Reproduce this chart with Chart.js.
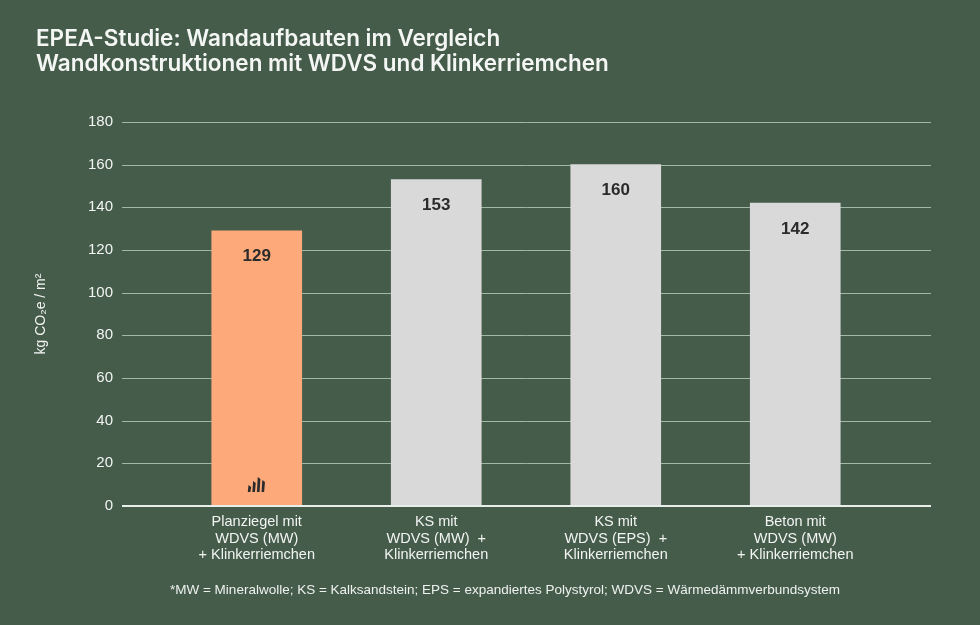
<!DOCTYPE html>
<html lang="de">
<head>
  <meta charset="UTF-8">
  <title>EPEA-Studie: Wandaufbauten im Vergleich</title>
  <script src="https://cdn.jsdelivr.net/npm/chart.js"></script>
  <style>
    html, body { margin: 0; padding: 0; background: #455c4b; }
    #wrap { width: 980px; height: 625px; }
  </style>
</head>
<body>
<div id="wrap"><canvas id="myChart"></canvas></div>

<script>
  // Daten
  var labels = [
    ['Planziegel mit', 'WDVS (MW)', '+ Klinkerriemchen'],
    ['KS mit', 'WDVS (MW)  +', 'Klinkerriemchen'],
    ['KS mit', 'WDVS (EPS)  +', 'Klinkerriemchen'],
    ['Beton mit', 'WDVS (MW)', '+ Klinkerriemchen']
  ];
  var values = [129, 153, 160, 142];
  var barColors = ['#fda97a', '#d9d9d9', '#d9d9d9', '#d9d9d9'];
  var yTicks = [0, 20, 40, 60, 80, 100, 120, 140, 160, 180];

  var titleLines = ['EPEA-Studie: Wandaufbauten im Vergleich', 'Wandkonstruktionen mit WDVS und Klinkerriemchen'];
  var footnote = '*MW = Mineralwolle; KS = Kalksandstein; EPS = expandiertes Polystyrol; WDVS = Wärmedämmverbundsystem';

  var font = "'Liberation Sans', Arial, sans-serif";

  // gridlines reach a bit past the bar area, like in the original
  var extGrid = {
    id: 'extGrid',
    beforeDatasetsDraw: function(chart) {
      var c = chart.ctx, a = chart.chartArea, y = chart.scales.y;
      c.save();
      c.strokeStyle = '#a3b7a7';
      c.lineWidth = 1;
      yTicks.forEach(function(t) {
        if (t === 0) return;
        var py = Math.round(y.getPixelForValue(t)) + 0.5;
        c.beginPath();
        c.moveTo(a.left - 45, py);
        c.lineTo(a.right + 46, py);
        c.stroke();
      });
      c.restore();
    },
    afterDatasetsDraw: function(chart) {
      var c = chart.ctx, a = chart.chartArea, y = chart.scales.y;
      var py = y.getPixelForValue(0);
      c.save();
      c.strokeStyle = '#e8eee9';
      c.lineWidth = 2;
      c.beginPath();
      c.moveTo(a.left - 45, py);
      c.lineTo(a.right + 46, py);
      c.stroke();

      // Werte in den Balken
      var meta = chart.getDatasetMeta(0);
      c.fillStyle = '#2b2b2b';
      c.font = 'bold 17px ' + font;
      c.textAlign = 'center';
      c.textBaseline = 'middle';
      meta.data.forEach(function(bar, i) {
        c.fillText(values[i], bar.x, bar.y + 26);
      });

      // kleines Logo im ersten Balken
      var b = meta.data[0];
      var bx = b.x - 9, by = py - 14;
      var hs = [7, 11, 15, 12];
      c.fillStyle = '#2b2b2b';
      hs.forEach(function(h, k) {
        var x0 = bx + k * 4.6;
        c.beginPath();
        c.moveTo(x0, by);
        c.lineTo(x0 + 2.6, by);
        c.lineTo(x0 + 3.4, by - h + 2);
        c.lineTo(x0 + 0.8, by - h);
        c.closePath();
        c.fill();
      });
      c.restore();
    },
    afterDraw: function(chart) {
      var c = chart.ctx;
      c.save();
      c.fillStyle = '#f4f6f4';
      c.textAlign = 'left';
      c.textBaseline = 'alphabetic';
      c.font = '600 22.5px Inter, ' + font;
      c.fillText(titleLines[0], 36, 46);
      c.fillText(titleLines[1], 36, 70.5);
      c.font = '13.5px ' + font;
      c.textAlign = 'center';
      c.textBaseline = 'middle';
      c.fillStyle = '#eef1ee';
      c.fillText(footnote, 505, 590);
      c.restore();
    }
  };

  var ctx = document.getElementById('myChart');
  var chart = new Chart(ctx, {
    type: 'bar',
    data: {
      labels: labels,
      datasets: [{
        data: values,
        backgroundColor: barColors,
        borderWidth: 0,
        barThickness: 90
      }]
    },
    options: {
      responsive: true,
      maintainAspectRatio: false,
      animation: false,
      layout: { padding: { top: 122, left: 36, right: 95, bottom: 49 } },
      plugins: {
        legend: { display: false },
        tooltip: { enabled: false }
      },
      scales: {
        x: {
          grid: { display: false, drawTicks: false },
          border: { display: false },
          ticks: {
            color: '#f2f4f2',
            padding: 8,
            font: { family: font, size: 14.5, lineHeight: 1.13 },
            maxRotation: 0,
            autoSkip: false
          },
          afterFit: function(s) { s.height = 70; }
        },
        y: {
          min: 0,
          max: 180,
          grid: { display: false, drawTicks: false },
          border: { display: false },
          afterBuildTicks: function(s) {
            s.ticks = yTicks.map(function(v) { return { value: v }; });
          },
          ticks: {
            color: '#f2f4f2',
            padding: 54,
            font: { family: font, size: 15 }
          },
          title: {
            display: true,
            text: 'kg CO₂e / m²',
            color: '#f2f4f2',
            padding: { top: -3, bottom: 0 },
            font: { family: font, size: 14 }
          },
          afterFit: function(s) { s.width = 131; }
        }
      }
    },
    plugins: [extGrid]
  });
</script>
</body>
</html>
